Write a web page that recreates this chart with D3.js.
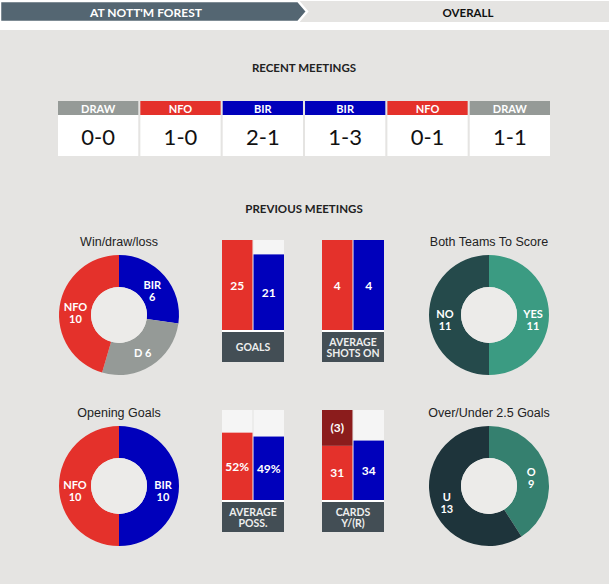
<!DOCTYPE html>
<html>
<head>
<meta charset="utf-8">
<script src="https://cdn.jsdelivr.net/npm/d3@7"></script>
<style>
  body { margin: 0; background: #fff; }
  svg { display: block; }
</style>
</head>
<body>
<script>
// recent meetings
var recentWinners = ["DRAW", "NFO", "BIR", "BIR", "NFO", "DRAW"];
var recentScores = ["0-0", "1-0", "2-1", "1-3", "0-1", "1-1"];

// donuts
var wdlNames = ["BIR", "D", "NFO"];
var wdlValues = [6, 6, 10];
var openNames = ["BIR", "NFO"];
var openValues = [10, 10];
var bttsNames = ["YES", "NO"];
var bttsValues = [11, 11];
var ouNames = ["O", "U"];
var ouValues = [9, 13];

// bars (NFO, BIR)
var goals = [25, 21];
var shots = [4, 4];
var poss = [52, 49];
var cardsYellow = [31, 34];
var cardsRed = [3, null];

var width = 609, height = 584;
var red = "#e4312b", blue = "#0000bb", grey = "#959a97";
var teamColor = { NFO: red, BIR: blue, DRAW: grey, D: grey };

var svg = d3.select("body").append("svg")
  .attr("width", width)
  .attr("height", height)
  .style("font-family", "Lato, 'Liberation Sans', sans-serif");

// tabs
svg.append("rect").attr("x", 0).attr("y", 30).attr("width", width).attr("height", height - 30).attr("fill", "#e5e4e2");
svg.append("rect").attr("x", 296).attr("y", 1).attr("width", width - 296).attr("height", 21).attr("fill", "#e5e4e2");
svg.append("polygon")
  .attr("points", "0,1 298,1 307,11.5 298,22 0,22")
  .attr("fill", "#546672")
  .attr("stroke", "#fff").attr("stroke-width", 2.5);
svg.append("rect").attr("x", 0).attr("y", 0).attr("width", 296).attr("height", 1).attr("fill", "#fff");
svg.append("text").attr("x", 146).attr("y", 12).attr("text-anchor", "middle").attr("dominant-baseline", "central")
  .attr("fill", "#fff").attr("font-weight", "bold").style("font-size", "12px").text("AT NOTT'M FOREST");
svg.append("text").attr("x", 468).attr("y", 12).attr("text-anchor", "middle").attr("dominant-baseline", "central")
  .attr("fill", "#111").attr("font-weight", "bold").style("font-size", "11.5px").text("OVERALL");

// section titles
function sectionTitle(y, t) {
  svg.append("text").attr("x", 304).attr("y", y).attr("text-anchor", "middle").attr("dominant-baseline", "central")
    .attr("fill", "#222").attr("font-weight", "bold").style("font-size", "11.5px").text(t);
}
sectionTitle(67, "RECENT MEETINGS");
sectionTitle(208, "PREVIOUS MEETINGS");

// recent meetings boxes
var xRecent = d3.scaleBand().domain(d3.range(recentScores.length)).range([58, 550]).paddingInner(0.025);
var boxes = svg.append("g").selectAll("g").data(recentScores).enter().append("g")
  .attr("transform", function(d, i) { return "translate(" + xRecent(i) + ",0)"; });
boxes.append("rect").attr("y", 101).attr("height", 14).attr("width", xRecent.bandwidth())
  .attr("fill", function(d, i) { return teamColor[recentWinners[i]]; });
boxes.append("rect").attr("y", 115).attr("height", 41).attr("width", xRecent.bandwidth()).attr("fill", "#fff");
boxes.append("text").attr("x", xRecent.bandwidth() / 2).attr("y", 108.5).attr("text-anchor", "middle")
  .attr("dominant-baseline", "central").attr("fill", "#fff").attr("font-weight", "bold").style("font-size", "11px")
  .text(function(d, i) { return recentWinners[i]; });
boxes.append("text").attr("x", xRecent.bandwidth() / 2).attr("y", 136).attr("text-anchor", "middle")
  .attr("dominant-baseline", "central").attr("fill", "#111").style("font-size", "22px")
  .text(function(d) { return d; });

// donuts
var arc = d3.arc().innerRadius(28).outerRadius(60);
var labelArc = d3.arc().innerRadius(44).outerRadius(44);

function donut(cx, cy, title, names, values, colors, oneLine) {
  var g = svg.append("g").attr("transform", "translate(" + cx + "," + cy + ")");
  g.append("text").attr("y", -73).attr("text-anchor", "middle").attr("dominant-baseline", "central")
    .attr("fill", "#222").style("font-size", "12.5px").style("font-family", "'Liberation Sans', Arial, sans-serif")
    .text(title);
  var pie = d3.pie().sort(null).value(function(d) { return d; });
  var arcs = pie(values);
  g.selectAll("path").data(arcs).enter().append("path")
    .attr("d", arc)
    .attr("fill", function(d, i) { return colors[i]; });
  g.append("circle").attr("r", 28).attr("fill", "#ecebe9");
  arcs.forEach(function(a, i) {
    var c = labelArc.centroid(a);
    var lines = (oneLine && oneLine[i]) ? [names[i] + " " + values[i]] : [names[i], values[i]];
    var y0 = lines.length > 1 ? c[1] - 2 : c[1];
    lines.forEach(function(l, k) {
      g.append("text").attr("x", c[0]).attr("y", y0 + k * 12)
        .attr("text-anchor", "middle").attr("dominant-baseline", "central").attr("fill", "#fff")
        .attr("font-weight", "bold").style("font-size", "11px").text(l);
    });
  });
}

donut(119, 315, "Win/draw/loss", wdlNames, wdlValues, [blue, grey, red], [false, true, false]);
donut(489, 315, "Both Teams To Score", bttsNames, bttsValues, ["#3b9b82", "#254a4b"]);
donut(119, 486, "Opening Goals", openNames, openValues, [blue, red]);
donut(489, 486, "Over/Under 2.5 Goals", ouNames, ouValues, ["#35806f", "#1e343b"]);

// bar blocks
function barBlock(x0, top, values, maxVal, labels, fmt, extra) {
  var g = svg.append("g");
  var x = d3.scaleBand().domain([0, 1]).range([x0, x0 + 62]).paddingInner(0.033);
  var y = d3.scaleLinear().domain([0, maxVal]).range([top + 90, top]);
  var cols = [red, blue];
  g.selectAll("rect.bg").data(values).enter().append("rect").attr("class", "bg")
    .attr("x", function(d, i) { return x(i); }).attr("width", x.bandwidth())
    .attr("y", top).attr("height", 90).attr("fill", "#f5f5f5");
  g.selectAll("rect.bar").data(values).enter().append("rect").attr("class", "bar")
    .attr("x", function(d, i) { return x(i); }).attr("width", x.bandwidth())
    .attr("y", function(d) { return y(d); })
    .attr("height", function(d) { return y(0) - y(d); })
    .attr("fill", function(d, i) { return cols[i]; });
  g.selectAll("text.val").data(values).enter().append("text").attr("class", "val")
    .attr("x", function(d, i) { return x(i) + x.bandwidth() / 2; })
    .attr("y", function(d) { return (y(d) + y(0)) / 2; })
    .attr("text-anchor", "middle").attr("dominant-baseline", "central")
    .attr("fill", "#fff").attr("font-weight", "bold").style("font-size", "12px")
    .text(function(d) { return fmt(d); });
  if (extra) {
    extra.forEach(function(r, i) {
      if (r == null) return;
      g.append("rect").attr("x", x(i)).attr("width", x.bandwidth())
        .attr("y", top).attr("height", y(values[i]) - top).attr("fill", "#8b1c1c");
      g.append("text").attr("x", x(i) + x.bandwidth() / 2).attr("y", (top + y(values[i])) / 2)
        .attr("text-anchor", "middle").attr("dominant-baseline", "central")
        .attr("fill", "#fff").attr("font-weight", "bold").style("font-size", "12px")
        .text("(" + r + ")");
    });
  }
  g.append("rect").attr("x", x0).attr("y", top + 90).attr("width", 62).attr("height", 2).attr("fill", "#fff");
  g.append("rect").attr("x", x0).attr("y", top + 92).attr("width", 62).attr("height", 30).attr("fill", "#434e55");
  var startY = top + 107 - (labels.length - 1) * 5.5;
  labels.forEach(function(l, i) {
    g.append("text").attr("x", x0 + 31).attr("y", startY + i * 11)
      .attr("text-anchor", "middle").attr("dominant-baseline", "central").attr("fill", "#eee")
      .attr("font-weight", "bold").style("font-size", "10.5px").text(l);
  });
}

var plain = function(d) { return d; };
var pct = function(d) { return d + "%"; };
barBlock(222, 240, goals, 25, ["GOALS"], plain);
barBlock(322, 240, shots, 4, ["AVERAGE", "SHOTS ON"], plain);
barBlock(222, 410, poss, 69.5, ["AVERAGE", "POSS."], pct);
barBlock(322, 410, cardsYellow, 51.5, ["CARDS", "Y/(R)"], plain, cardsRed);
</script>
</body>
</html>
